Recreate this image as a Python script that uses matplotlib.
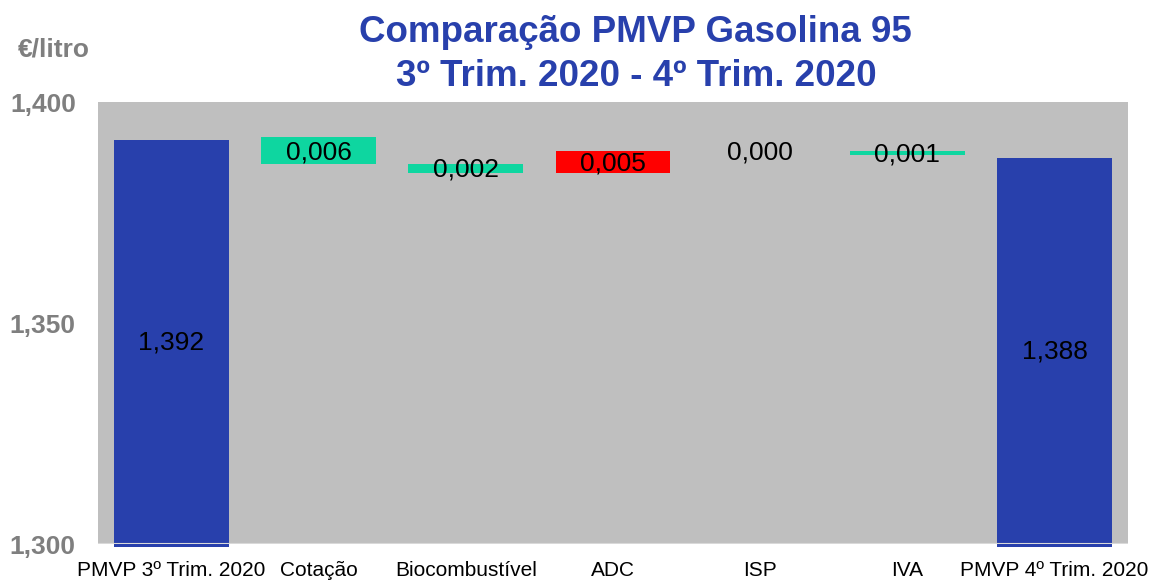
import matplotlib
matplotlib.use('Agg')
import matplotlib.pyplot as plt
import numpy as np

# dados (€/litro)
categorias = ['PMVP 3º Trim. 2020', 'Cotação', 'Biocombustível', 'ADC', 'ISP', 'IVA', 'PMVP 4º Trim. 2020']
pmvp_inicio = 1.392
variacoes = [-0.006, -0.002, 0.005, 0.000, -0.001]
pmvp_fim = 1.388
yticks = [1.300, 1.350, 1.400]

AZUL = '#2840AC'
VERDE = '#0ED6A0'
VERMELHO = '#FF0000'
CINZA = '#BFBFBF'
CINZA_TXT = '#7F7F7F'

plt.rcParams['font.family'] = ['Liberation Sans', 'DejaVu Sans']

def fmt(v):
    return f'{v:.3f}'.replace('.', ',')

fig = plt.figure(figsize=(11.54, 5.8), dpi=100)
ax = fig.add_axes([0.0849, 0.062, 0.8926, 0.762])
ax.set_facecolor(CINZA)
y0 = 1.300
ax.set_ylim(y0, 1.400)
ax.set_xlim(-0.5, len(categorias) - 0.5)
w = 0.78
fs_val = 19

# barra inicial
ax.bar(0, pmvp_inicio - y0, bottom=y0 - 0.0006, width=w, color=AZUL, clip_on=False, zorder=2)
ax.text(0, (pmvp_inicio + y0) / 2 - 0.0005, fmt(pmvp_inicio), ha='center', va='center', fontsize=fs_val, zorder=4)

nivel = pmvp_inicio
for i, d in enumerate(variacoes, start=1):
    novo = nivel + d
    base = min(nivel, novo)
    cor = VERMELHO if d > 0 else VERDE
    if d != 0:
        ax.bar(i, abs(d), bottom=base, width=w, color=cor, zorder=2)
    ax.text(i, base + abs(d) / 2 - 0.0003, fmt(abs(d)), ha='center', va='center', fontsize=fs_val, zorder=4)
    nivel = novo

# barra final
n = len(categorias) - 1
ax.bar(n, pmvp_fim - y0, bottom=y0 - 0.0006, width=w, color=AZUL, clip_on=False, zorder=2)
ax.text(n, (pmvp_fim + y0) / 2 - 0.0005, fmt(pmvp_fim), ha='center', va='center', fontsize=fs_val, zorder=4)

ax.axhline(y0, color='#D9D9D9', lw=1.5, zorder=3)

for s in ax.spines.values():
    s.set_visible(False)
ax.set_yticks(yticks)
ax.set_yticklabels([fmt(t) for t in yticks], fontsize=19, fontweight='bold', color=CINZA_TXT)
ax.tick_params(axis='y', length=0, pad=16)
ax.set_xticks(range(len(categorias)))
ax.set_xticklabels(categorias, fontsize=15)
ax.tick_params(axis='x', length=0, pad=12)

fig.text(0.047, 0.915, '€/litro', ha='center', va='center', fontsize=19, fontweight='bold', color=CINZA_TXT)
fig.text(0.551, 0.906, 'Comparação PMVP Gasolina 95\n3º Trim. 2020 - 4º Trim. 2020', ha='center', va='center',
         fontsize=26.5, fontweight='bold', color=AZUL, linespacing=1.32)

fig.savefig('out.png', dpi=100)
